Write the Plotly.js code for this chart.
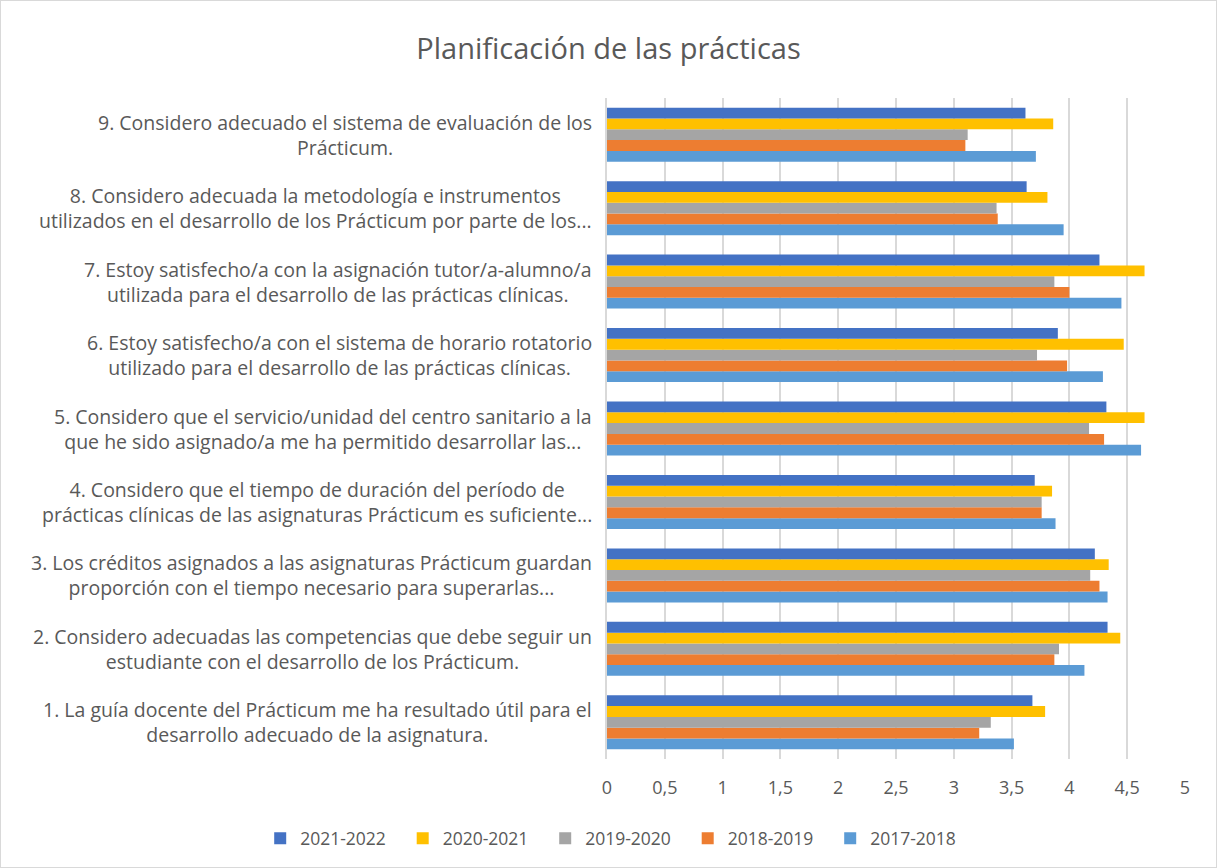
<!DOCTYPE html>
<html>
<head>
<meta charset="utf-8">
<script src="https://cdn.plot.ly/plotly-3.0.1.min.js"></script>
<style>
  body { margin: 0; background: #fff; }
  #chart { width: 1215px; height: 866px; border: 1px solid #d9d9d9; }
</style>
</head>
<body>
<div id="chart"></div>
<script>
// preguntas (de abajo a arriba)
const categories = ['P1', 'P2', 'P3', 'P4', 'P5', 'P6', 'P7', 'P8', 'P9'];
const labels = [
  '1. La guía docente del Prácticum me ha resultado útil para el<br>desarrollo adecuado de la asignatura.',
  '2. Considero adecuadas las competencias que debe seguir un<br>estudiante con el desarrollo de los Prácticum.',
  '3. Los créditos asignados a las asignaturas Prácticum guardan<br>proporción con el tiempo necesario para superarlas...',
  '4. Considero que el tiempo de duración del período de<br>prácticas clínicas de las asignaturas Prácticum es suficiente...',
  '5. Considero que el servicio/unidad del centro sanitario a la<br>que he sido asignado/a me ha permitido desarrollar las...',
  '6. Estoy satisfecho/a con el sistema de horario rotatorio<br>utilizado para el desarrollo de las prácticas clínicas.',
  '7. Estoy satisfecho/a con la asignación tutor/a-alumno/a<br>utilizada para el desarrollo de las prácticas clínicas.',
  '8. Considero adecuada la metodología e instrumentos<br>utilizados en el desarrollo de los Prácticum por parte de los...',
  '9. Considero adecuado el sistema de evaluación de los<br>Prácticum.'
];

const years = ['2017-2018', '2018-2019', '2019-2020', '2020-2021', '2021-2022'];
const v2017 = [3.52, 4.13, 4.33, 3.88, 4.62, 4.29, 4.45, 3.95, 3.71];
const v2018 = [3.22, 3.87, 4.26, 3.76, 4.30, 3.98, 4.00, 3.38, 3.10];
const v2019 = [3.32, 3.91, 4.18, 3.76, 4.17, 3.72, 3.87, 3.37, 3.12];
const v2020 = [3.79, 4.44, 4.34, 3.85, 4.65, 4.47, 4.65, 3.81, 3.86];
const v2021 = [3.68, 4.33, 4.22, 3.70, 4.32, 3.90, 4.26, 3.63, 3.62];
const colors = ['#5b9bd5', '#ed7d31', '#a5a5a5', '#ffc000', '#4472c4'];

const FONT = '"Open Sans", Lato, sans-serif';

const series = [v2017, v2018, v2019, v2020, v2021];
const data = series.map((vals, i) => ({
  type: 'bar',
  orientation: 'h',
  name: years[i],
  y: categories,
  x: vals,
  marker: { color: colors[i] },
  hoverinfo: 'x+name'
}));

const annotations = categories.map((c, i) => ({
  xref: 'paper', yref: 'y',
  x: -0.022, y: c,
  xanchor: 'right', yanchor: 'middle',
  text: labels[i],
  align: 'center',
  showarrow: false,
  font: { family: FONT, size: 19.5, color: '#595959' }
}));

const layout = {
  width: 1215,
  height: 866,
  paper_bgcolor: '#fff',
  plot_bgcolor: '#fff',
  separators: ',.',
  margin: { l: 606, r: 31, t: 97, b: 108, autoexpand: false },
  title: {
    text: 'Planificación de las prácticas',
    x: 0.5, xanchor: 'center',
    y: 0.945, yanchor: 'middle',
    font: { family: FONT, size: 29, color: '#595959' }
  },
  barmode: 'group',
  bargap: 0.265,
  bargroupgap: 0,
  xaxis: {
    range: [0, 5],
    dtick: 0.5,
    showgrid: true,
    gridcolor: '#d9d9d9',
    gridwidth: 1.5,
    zeroline: false,
    showline: false,
    ticks: '',
    ticklabelstandoff: 16,
    tickfont: { family: FONT, size: 18, color: '#595959' }
  },
  yaxis: {
    type: 'category',
    showticklabels: false,
    showgrid: false,
    zeroline: false,
    showline: true,
    linecolor: '#d9d9d9',
    linewidth: 1.5,
    ticks: ''
  },
  legend: {
    orientation: 'h',
    traceorder: 'reversed',
    x: -0.6, xanchor: 'left',
    y: -0.12, yanchor: 'middle',
    font: { family: FONT, size: 17.5, color: '#595959' },
    itemwidth: 30,
    entrywidth: 97.5,
    entrywidthmode: 'pixels'
  },
  annotations: annotations
};

Plotly.newPlot('chart', data, layout, { displayModeBar: false });
</script>
</body>
</html>
